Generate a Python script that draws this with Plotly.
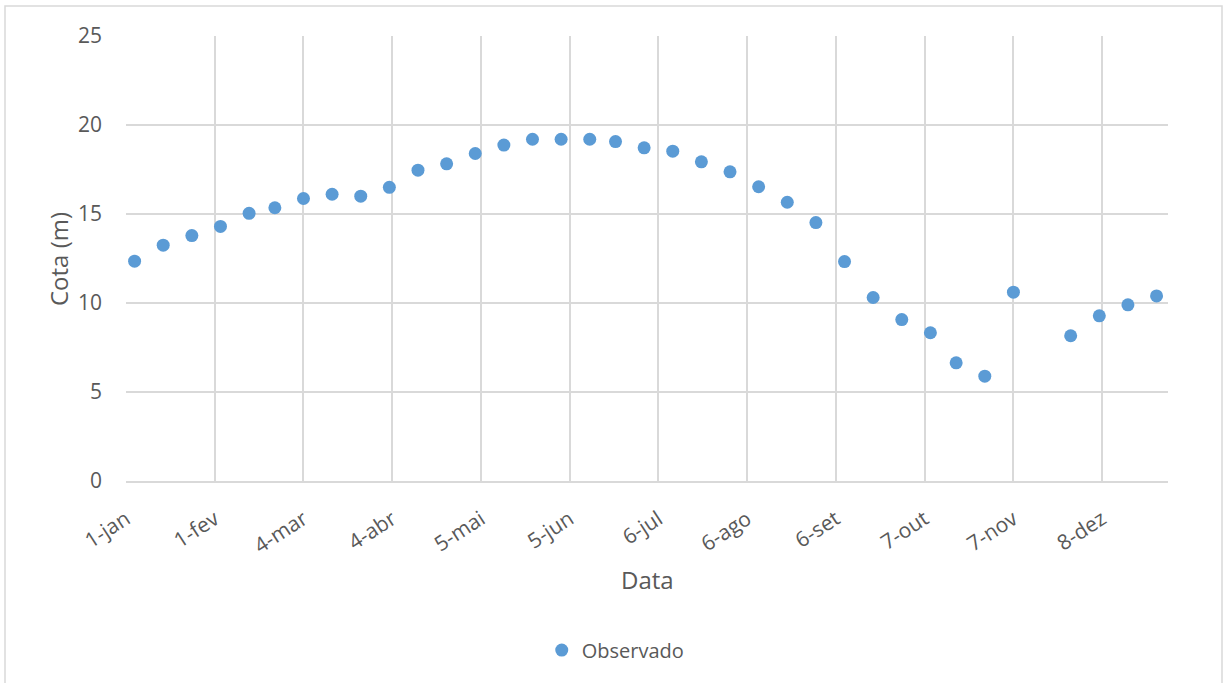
import plotly.graph_objects as go

# Observed water level (cota) sampled roughly every ten days
datas = [
    "2015-01-04", "2015-01-14", "2015-01-24", "2015-02-03", "2015-02-13", "2015-02-22",
    "2015-03-04", "2015-03-14", "2015-03-24", "2015-04-03", "2015-04-13", "2015-04-23",
    "2015-05-03", "2015-05-13", "2015-05-23", "2015-06-02", "2015-06-12", "2015-06-21",
    "2015-07-01", "2015-07-11", "2015-07-21", "2015-07-31", "2015-08-10", "2015-08-20",
    "2015-08-30", "2015-09-09", "2015-09-19", "2015-09-29", "2015-10-09", "2015-10-18",
    "2015-10-28", "2015-11-07", "2015-11-17", "2015-11-27", "2015-12-07", "2015-12-17",
    "2015-12-27",
]
cota_observada = [
    12.35, 13.25, 13.79, 14.30, 15.04, 15.35,
    15.87, 16.11, 16.00, 16.50, 17.46, 17.82,
    18.40, 18.87, 19.20, 19.20, 19.20, 19.07,
    18.72, 18.53, 17.93, 17.37, 16.53, 15.66,
    14.52, 12.33, 10.31, 9.07, 8.33, 6.64,
    5.89, 10.61, None, 8.16, 9.28, 9.90,
    10.40,
]

# Axis ticks every 31 days starting on 1 January
tick_datas = [
    "2015-01-01", "2015-02-01", "2015-03-04", "2015-04-04", "2015-05-05", "2015-06-05",
    "2015-07-06", "2015-08-06", "2015-09-06", "2015-10-07", "2015-11-07", "2015-12-08",
]
tick_rotulos = [
    "1-jan", "1-fev", "4-mar", "4-abr", "5-mai", "5-jun",
    "6-jul", "6-ago", "6-set", "7-out", "7-nov", "8-dez",
]

FONT = "Open Sans"
TXT = "#595959"
GRID = "#d9d9d9"

fig = go.Figure()
fig.add_trace(go.Scatter(
    x=datas, y=cota_observada, mode="markers", name="Observado",
    marker=dict(color="#5b9bd5", size=13, line=dict(width=0)),
))

fig.update_layout(
    width=1225, height=683,
    margin=dict(l=126, r=57, t=36, b=202),
    paper_bgcolor="white", plot_bgcolor="white",
    font=dict(family=FONT, color=TXT, size=20),
    showlegend=True,
    legend=dict(
        orientation="h", x=0.47, xanchor="center", y=-0.38, yanchor="middle",
        font=dict(family=FONT, size=20, color=TXT), itemwidth=30,
    ),
    xaxis=dict(
        type="date", range=["2015-01-01", "2015-12-31"],
        tickvals=tick_datas, ticktext=tick_rotulos, tickangle=-33,
        showgrid=True, gridcolor=GRID, gridwidth=1.5,
        showline=True, linecolor=GRID, linewidth=1.5,
        zeroline=False, ticks="", ticklabelstandoff=16,
        tickfont=dict(family=FONT, size=21, color=TXT),
    ),
    yaxis=dict(
        range=[0, 25], tickvals=[0, 5, 10, 15, 20, 25],
        showgrid=True, gridcolor=GRID, gridwidth=1.5,
        showline=False, zeroline=False, ticks="", ticklabelstandoff=23,
        tickfont=dict(family=FONT, size=21, color=TXT),
    ),
    annotations=[
        dict(text="Cota (m)", xref="paper", yref="paper",
             x=(58 - 126) / 1042, y=(481 - 259) / 445, textangle=-90,
             showarrow=False, xanchor="center", yanchor="middle",
             font=dict(family=FONT, size=24, color=TXT)),
        dict(text="Data", xref="paper", yref="paper",
             x=0.5, y=(481 - 579) / 445,
             showarrow=False, xanchor="center", yanchor="middle",
             font=dict(family=FONT, size=24, color=TXT)),
    ],
    shapes=[
        dict(type="rect", xref="paper", yref="paper",
             x0=(5 - 126) / 1042, x1=(1222 - 126) / 1042,
             y0=(481 - 690) / 445, y1=(481 - 6) / 445,
             line=dict(color=GRID, width=1.5), fillcolor="rgba(0,0,0,0)",
             layer="below"),
    ],
)

fig.write_html("out.html")
